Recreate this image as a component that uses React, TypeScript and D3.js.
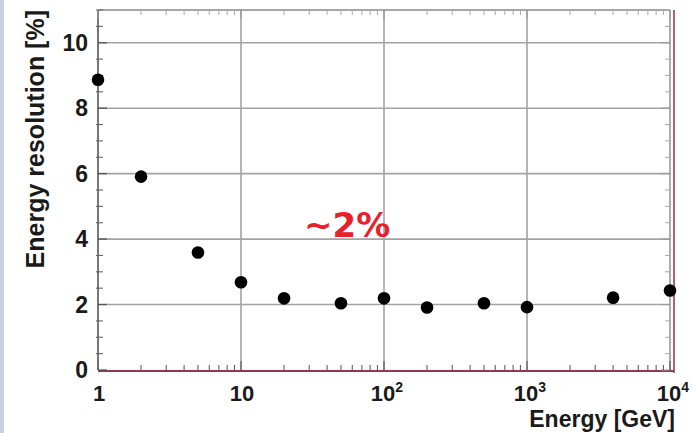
import React from "react";
import * as d3 from "d3";

const energies = [1, 2, 5, 10, 20, 50, 100, 200, 500, 1000, 4000, 10000];
const resolution = [8.87, 5.91, 3.59, 2.68, 2.19, 2.04, 2.19, 1.91, 2.04, 1.92, 2.21, 2.43];
const yTicks = [0, 2, 4, 6, 8, 10];
const xDecades = [1, 10, 100, 1000, 10000];
const xLabels = [
  { base: "1", exp: "" },
  { base: "10", exp: "" },
  { base: "10", exp: "2" },
  { base: "10", exp: "3" },
  { base: "10", exp: "4" },
];

const W = 697;
const H = 433;
const left = 98;
const right = 670;
const top = 10;
const bottom = 370;

export default function App() {
  const x = d3.scaleLog().domain([1, 10000]).range([left, right]);
  const y = d3.scaleLinear().domain([0, 11]).range([bottom, top]);

  const yMinor = d3.range(0, 11.01, 0.5).filter((v) => Math.abs(v % 2) > 1e-6);
  const xMinor: number[] = [];
  for (let d = 1; d < 10000; d *= 10) {
    for (let k = 2; k <= 9; k++) xMinor.push(d * k);
  }
  const font = "'Liberation Sans', Arial, Helvetica, sans-serif";
  const grid = "#a3a3a3";

  return (
    <svg
      width={W}
      height={H}
      style={{ position: "absolute", left: 0, top: 0, background: "#fff" }}
    >
      <rect x={0} y={0} width={W} height={H} fill="#fff" />
      <rect x={0} y={0} width={4} height={H} fill="#c4d2e2" />

      {/* grid */}
      {yTicks.slice(1).map((v) => (
        <line key={"gy" + v} x1={left} x2={right} y1={y(v)} y2={y(v)} stroke={grid} strokeWidth={1.6} />
      ))}
      {xDecades.slice(1, -1).map((v) => (
        <line key={"gx" + v} x1={x(v)} x2={x(v)} y1={top} y2={bottom} stroke={grid} strokeWidth={1.6} />
      ))}

      {/* frame */}
      <line x1={left} x2={right} y1={top} y2={top} stroke="#8a8a8a" strokeWidth={1.6} />
      <line x1={right} x2={right} y1={top} y2={bottom} stroke="#8a8a8a" strokeWidth={1.4} />
      <line x1={right + 4} x2={right + 4} y1={top} y2={bottom + 3} stroke="#a03a52" strokeWidth={1.6} />
      <line x1={left} x2={left} y1={top} y2={bottom} stroke="#555" strokeWidth={1.6} />
      <line x1={left} x2={right + 4} y1={bottom + 1} y2={bottom + 1} stroke="#8e3a4c" strokeWidth={1.8} />

      {/* y ticks */}
      {yTicks.map((v) => (
        <g key={"yt" + v}>
          <line x1={left} x2={left + 9} y1={y(v)} y2={y(v)} stroke="#555" strokeWidth={1.3} />
          <line x1={right} x2={right - 9} y1={y(v)} y2={y(v)} stroke="#999" strokeWidth={1.1} />
        </g>
      ))}
      {yMinor.map((v) => (
        <g key={"ym" + v}>
          <line x1={left - 2} x2={left + 5} y1={y(v)} y2={y(v)} stroke="#666" strokeWidth={1.1} />
          <line x1={right} x2={right - 5} y1={y(v)} y2={y(v)} stroke="#aaa" strokeWidth={1} />
        </g>
      ))}

      {/* x ticks */}
      {xDecades.map((v) => (
        <g key={"xt" + v}>
          <line x1={x(v)} x2={x(v)} y1={bottom} y2={bottom - 9} stroke="#666" strokeWidth={1.3} />
          <line x1={x(v)} x2={x(v)} y1={top} y2={top + 9} stroke="#999" strokeWidth={1.1} />
        </g>
      ))}
      {xMinor.map((v) => (
        <g key={"xm" + v}>
          <line x1={x(v)} x2={x(v)} y1={bottom} y2={bottom - 5} stroke="#7a5560" strokeWidth={1.1} />
          <line x1={x(v)} x2={x(v)} y1={top} y2={top + 5} stroke="#aaa" strokeWidth={1} />
        </g>
      ))}

      {/* y labels */}
      {yTicks.map((v) => (
        <text
          key={"yl" + v}
          x={88}
          y={y(v)}
          dy="0.36em"
          textAnchor="end"
          fontFamily={font}
          fontWeight="bold"
          fontSize={23}
          fill="#1a1a1a"
        >
          {v}
        </text>
      ))}

      {/* x labels */}
      {xDecades.map((v, i) => (
        <text
          key={"xl" + v}
          x={x(v) + (xLabels[i].exp ? 3 : 1)}
          y={401}
          textAnchor="middle"
          fontFamily={font}
          fontWeight="bold"
          fontSize={22}
          fill="#1a1a1a"
        >
          {xLabels[i].base}
          {xLabels[i].exp ? (
            <tspan dy={-9} fontSize={14}>
              {xLabels[i].exp}
            </tspan>
          ) : null}
        </text>
      ))}

      {/* axis titles */}
      <text
        x={675}
        y={426.5}
        textAnchor="end"
        fontFamily={font}
        fontWeight="bold"
        fontSize={23}
        fill="#1a1a1a"
      >
        Energy [GeV]
      </text>
      <text
        transform="translate(44,10) rotate(-90)"
        textAnchor="end"
        fontFamily={font}
        fontWeight="bold"
        fontSize={25}
        fill="#1a1a1a"
      >
        Energy resolution [%]
      </text>

      {/* points */}
      {energies.map((e, i) => (
        <circle key={"p" + e} cx={x(e)} cy={y(resolution[i])} r={6.3} fill="#000" />
      ))}

      {/* annotation */}
      <text
        x={304}
        y={237}
        fontFamily="'DejaVu Sans', Verdana, sans-serif"
        fontWeight="bold"
        fontSize={34}
        fill="#e8202c"
      >
        ~2%
      </text>
    </svg>
  );
}
